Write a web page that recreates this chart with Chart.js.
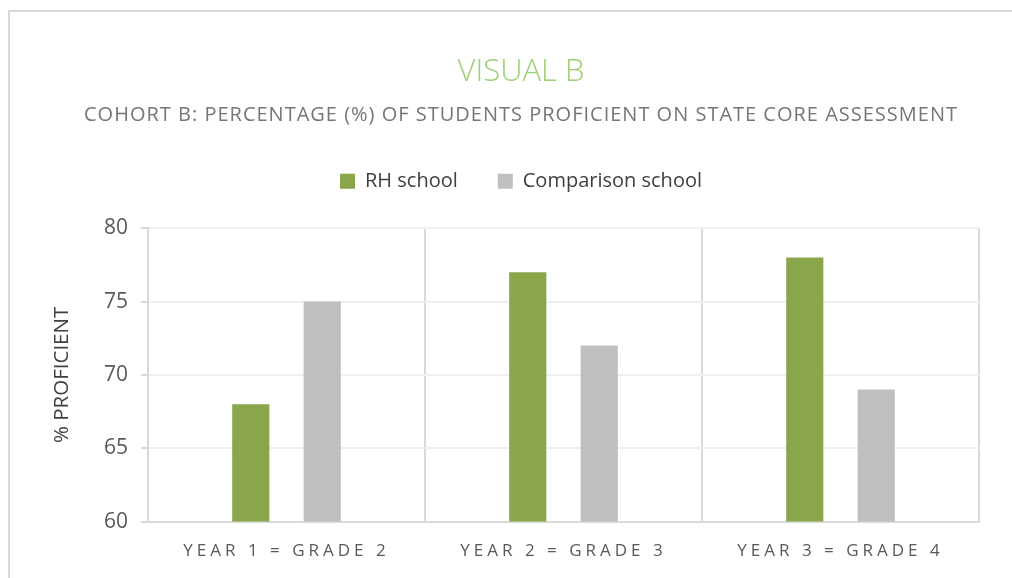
<!DOCTYPE html>
<html>
<head>
<meta charset="utf-8">
<script src="https://cdn.jsdelivr.net/npm/chart.js@4.4.1/dist/chart.umd.min.js"></script>
<style>
  html, body { margin: 0; padding: 0; background: #fff; overflow: hidden; }
  #frame {
    position: absolute; left: 8px; top: 10px; width: 1100px; height: 700px;
    border-left: 2px solid #d9d9d9; border-top: 2px solid #d9d9d9;
  }
  #wrap { position: absolute; left: 0; top: 0; width: 1012px; height: 590px; }
</style>
</head>
<body>
<div id="frame"></div>
<div id="wrap"><canvas id="chart" width="1012" height="590"></canvas></div>
<script>
// 데이터
const categories = ['YEAR 1 = GRADE 2', 'YEAR 2 = GRADE 3', 'YEAR 3 = GRADE 4'];
const rhSchool = [68, 77, 78];
const comparisonSchool = [75, 72, 69];
const seriesNames = ['RH school', 'Comparison school'];

const FONT = "'Open Sans', 'DejaVu Sans', sans-serif";
const SUBTITLE = 'COHORT B: PERCENTAGE (%) OF STUDENTS PROFICIENT ON STATE CORE ASSESSMENT';

// 자간 적용 (canvas letterSpacing)
function withSpacing(obj, fnName, spacing) {
  if (obj['_sp_' + fnName]) return;
  const orig = obj[fnName];
  obj[fnName] = function (...args) {
    const c = this.ctx;
    c.save();
    c.letterSpacing = spacing;
    orig.apply(this, args);
    c.restore();
  };
  obj['_sp_' + fnName] = true;
}

const layoutTweaks = {
  id: 'layoutTweaks',
  beforeLayout(chart) {
    // 범례 아래 여백
    const lg = chart.legend;
    if (lg && !lg._extra) {
      const fit = lg.fit;
      lg.fit = function () { fit.call(this); this.height += 27; };
      lg._extra = true;
    }
    chart.boxes.forEach(b => {
      if (b.options && b.options.text === SUBTITLE) withSpacing(b, 'draw', '1px');
    });
  },
  afterUpdate(chart) {
    if (chart.scales.x) withSpacing(chart.scales.x, 'drawLabels', '4px');
  }
};

const ctx = document.getElementById('chart').getContext('2d');
new Chart(ctx, {
  type: 'bar',
  data: {
    labels: categories,
    datasets: [
      { label: seriesNames[0], data: rhSchool, backgroundColor: '#8aa64a' },
      { label: seriesNames[1], data: comparisonSchool, backgroundColor: '#bfbfbf' }
    ]
  },
  options: {
    responsive: false,
    animation: false,
    layout: { padding: { left: 63, right: 33, top: 54, bottom: 10 } },
    datasets: { bar: { categoryPercentage: 0.516, barPercentage: 0.52 } },
    plugins: {
      title: {
        display: true,
        text: 'VISUAL B',
        color: '#9dd174',
        font: { family: FONT, size: 31, weight: '300' },
        padding: { top: 0, bottom: 12 }
      },
      subtitle: {
        display: true,
        text: SUBTITLE,
        color: '#767676',
        font: { family: FONT, size: 20 },
        padding: { top: 0, bottom: 4 }
      },
      legend: {
        position: 'top',
        labels: {
          color: '#404040',
          font: { family: FONT, size: 20 },
          boxWidth: 15,
          boxHeight: 15,
          padding: 40
        }
      },
      tooltip: { enabled: false }
    },
    scales: {
      x: {
        grid: { offset: true, color: '#d9d9d9', lineWidth: 2, drawTicks: false },
        border: { color: '#d9d9d9', width: 2 },
        ticks: { color: '#595959', font: { family: FONT, size: 17 }, padding: 19, maxRotation: 0 }
      },
      y: {
        min: 60,
        max: 80,
        ticks: { stepSize: 5, color: '#595959', font: { family: FONT, size: 21 }, padding: 13 },
        grid: { color: '#efefef', lineWidth: 2, tickLength: 7, tickColor: '#d9d9d9' },
        border: { color: '#d9d9d9', width: 2 },
        title: {
          display: true,
          text: '% PROFICIENT',
          color: '#404040',
          font: { family: FONT, size: 20.5 },
          padding: { top: -13, bottom: 0 }
        },
        afterFit(scale) { scale.width = 85; }
      }
    }
  },
  plugins: [layoutTweaks]
});
</script>
</body>
</html>
